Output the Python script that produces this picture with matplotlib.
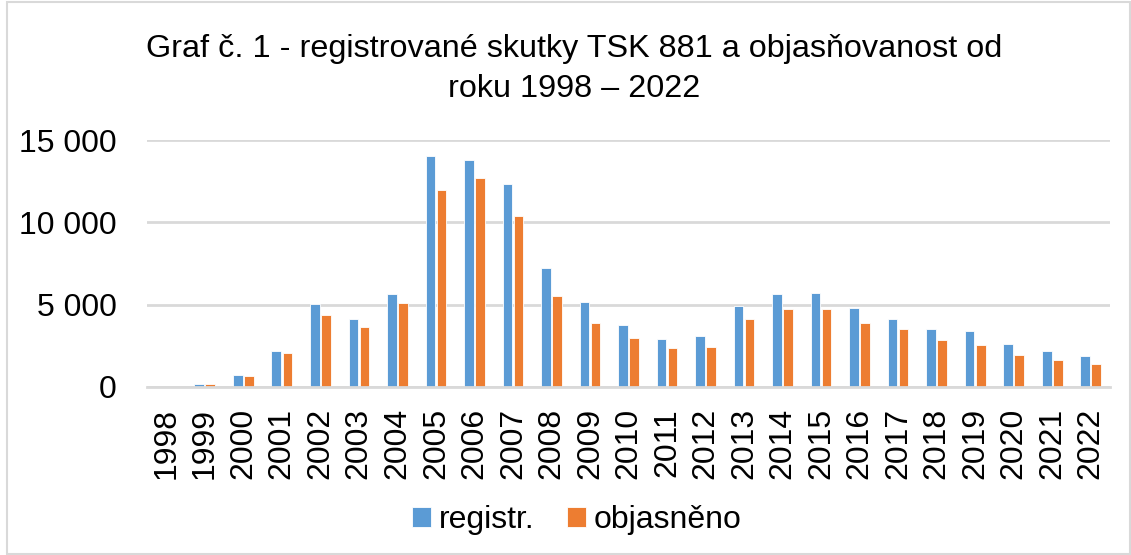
import numpy as np
import matplotlib.pyplot as plt
from matplotlib.patches import Rectangle
from matplotlib.ticker import FuncFormatter

years = [str(y) for y in range(1998, 2023)]
registr = [0, 200, 730, 2160, 5030, 4120, 5640, 14020, 13800, 12300, 7250,
           5170, 3760, 2910, 3110, 4930, 5640, 5700, 4790, 4120, 3520,
           3390, 2630, 2180, 1880]
objasneno = [0, 190, 690, 2060, 4360, 3660, 5130, 11960, 12670, 10400, 5540,
             3880, 2970, 2360, 2440, 4120, 4710, 4750, 3880, 3500, 2850,
             2570, 1940, 1620, 1370]

plt.rcParams['font.family'] = ['Liberation Sans', 'DejaVu Sans']

blue = "#5B9BD5"
orange = "#ED7D31"
grid = "#D9D9D9"

fig = plt.figure(figsize=(11.31, 5.55), dpi=100)
ax = fig.add_axes([147/1131, 1 - 387/555, (1110-147)/1131, (387-140)/555])

x = np.arange(len(years))
w = 0.25
ax.bar(x - 0.143, registr, w, color=blue, edgecolor="white", linewidth=0.6, label="registr.")
ax.bar(x + 0.143, objasneno, w, color=orange, edgecolor="white", linewidth=0.6, label="objasněno")

ax.set_xlim(-0.5, len(years) - 0.5)
ax.set_ylim(0, 15000)
ax.set_yticks([0, 5000, 10000, 15000])
ax.yaxis.set_major_formatter(FuncFormatter(lambda v, p: f"{int(v):,}".replace(",", " ")))
ax.set_xticks(x)
ax.set_xticklabels(years, rotation=90)
ax.tick_params(axis="both", length=0, labelsize=23)
ax.tick_params(axis="y", pad=22)
ax.tick_params(axis="x", pad=15)
ax.grid(axis="y", color=grid, linewidth=2)
ax.set_axisbelow(True)
for s in ["top", "right", "left"]:
    ax.spines[s].set_visible(False)
ax.spines["bottom"].set_color(grid)
ax.spines["bottom"].set_linewidth(2)

fig.text(0.508, 1 - 49/555, "Graf č. 1 - registrované skutky TSK 881 a objasňovanost od",
         ha="center", va="center", fontsize=23.3)
fig.text(0.508, 1 - 89/555, "roku 1998 – 2022", ha="center", va="center", fontsize=23.3)

fig.legend(loc="center", bbox_to_anchor=(0.51, 1 - 520/555), ncol=2, frameon=False,
           fontsize=23, handlelength=0.6, handleheight=0.6, handletextpad=0.25,
           columnspacing=1.0)

fig.patches.append(Rectangle((7/1131, 0.002), 1 - 8/1131, 0.994, transform=fig.transFigure,
                             fill=False, edgecolor=grid, linewidth=1.5))

fig.savefig("out.png", dpi=100)
